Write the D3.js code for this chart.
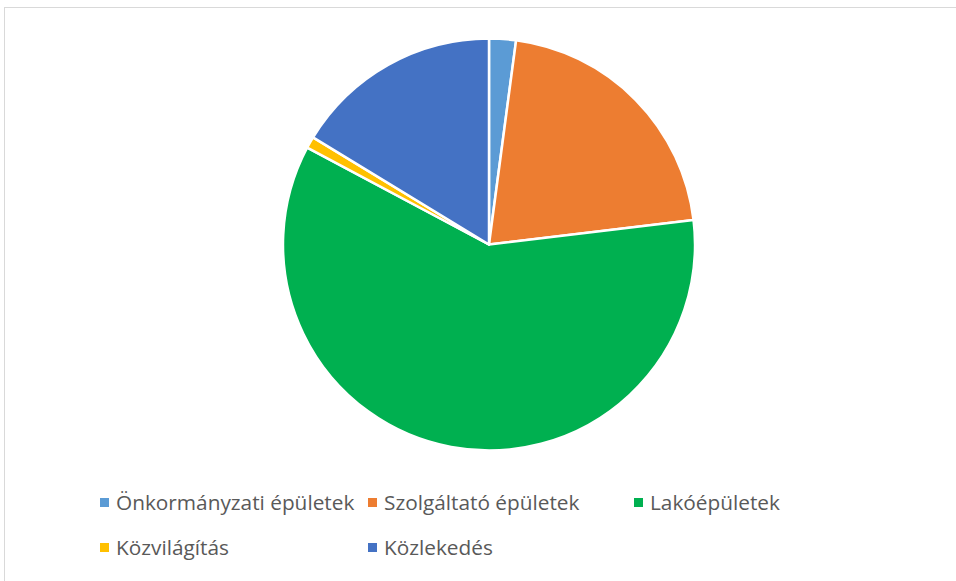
<!DOCTYPE html>
<html><head><meta charset="utf-8">
<script src="https://cdn.jsdelivr.net/npm/d3@7/dist/d3.min.js"></script>
<style>html,body{margin:0;padding:0;background:#fff;}svg{display:block;}</style>
</head><body>
<svg id="chart" width="956" height="581"></svg>
<script>
const categories = ["Önkormányzati épületek", "Szolgáltató épületek", "Lakóépületek", "Közvilágítás", "Közlekedés"];
const values = [2.1, 21.0, 59.7, 0.9, 16.3];
const colors = ["#5B9BD5", "#ED7D31", "#00B050", "#FFC000", "#4472C4"];

const svg = d3.select("#chart");
// frame
svg.append("rect").attr("x", 4.5).attr("y", 7.5).attr("width", 1000).attr("height", 600)
  .attr("fill", "#fff").attr("stroke", "#d9d9d9").attr("stroke-width", 1);

const cx = 489, cy = 244.5, r = 206;
const pie = d3.pie().sort(null).value(d => d.v);
const arc = d3.arc().innerRadius(0).outerRadius(r);
const data = categories.map((c, i) => ({c, v: values[i], col: colors[i]}));
const g = svg.append("g").attr("transform", `translate(${cx},${cy})`);
g.selectAll("path").data(pie(data)).join("path")
  .attr("d", arc).attr("fill", d => d.data.col)
  .attr("stroke", "#fff").attr("stroke-width", 2.5).attr("stroke-linejoin", "round");

// legend
const legendPos = [
  {x: 100, y: 503}, {x: 368, y: 503}, {x: 634, y: 503},
  {x: 100, y: 548}, {x: 368, y: 548}
];
const lg = svg.append("g");
data.forEach((d, i) => {
  const p = legendPos[i];
  lg.append("rect").attr("x", p.x).attr("y", p.y - 5).attr("width", 9).attr("height", 9).attr("fill", d.col);
  lg.append("text").attr("x", p.x + 16).attr("y", p.y).attr("dy", "0.35em")
    .attr("font-family", "'Open Sans', 'Noto Sans', sans-serif").attr("font-size", 20.8)
    .attr("fill", "#595959").text(d.c);
});
</script>
</body></html>
